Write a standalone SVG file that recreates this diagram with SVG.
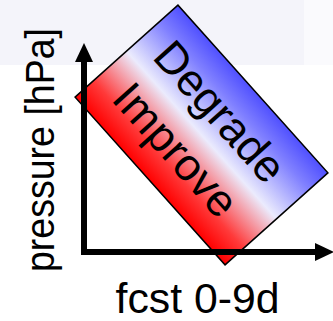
<svg xmlns="http://www.w3.org/2000/svg" width="333" height="321" viewBox="0 0 333 321">
  <defs>
    <linearGradient id="grad" x1="0" y1="1" x2="0" y2="0">
      <stop offset="0" stop-color="#ff0000"/>
      <stop offset="0.18" stop-color="#ff3a3a"/>
      <stop offset="0.5" stop-color="#ebebfd"/>
      <stop offset="0.82" stop-color="#8080ff"/>
      <stop offset="1" stop-color="#5050ff"/>
    </linearGradient>
    <marker id="arrow" markerUnits="userSpaceOnUse" markerWidth="19" markerHeight="18" refX="0" refY="9" orient="auto" overflow="visible">
      <path d="M0,0 L19,9 L0,18 Z" fill="#000"/>
    </marker>
    <style>
      .lbl { font-family: "Liberation Sans", Arial, sans-serif; fill: #000; }
      .axis { stroke: #000; stroke-width: 6; fill: none; }
    </style>
  </defs>

  <g id="background">
    <rect x="0" y="0" width="333" height="321" fill="#ffffff"/>
    <rect x="0" y="0" width="304" height="65" fill="#f4f4fa"/>
    <rect x="304" y="0" width="29" height="65" fill="#fafafd"/>
  </g>

  <g id="box" transform="translate(201.5,135) rotate(48.2)">
    <rect x="-112.5" y="-69" width="225" height="138" fill="url(#grad)" stroke="#000" stroke-width="1.5"/>
    <text class="lbl" x="-91" y="-14" font-size="45" textLength="172" lengthAdjust="spacingAndGlyphs">Degrade</text>
    <text class="lbl" x="-87" y="44.5" font-size="45" textLength="162" lengthAdjust="spacingAndGlyphs">Improve</text>
  </g>

  <g id="connectors">
    <path class="axis" d="M84,255 L84,62" marker-end="url(#arrow)"/>
    <path class="axis" d="M81,252 L315,252" marker-end="url(#arrow)"/>
  </g>

  <g id="y-label">
    <text class="lbl" transform="translate(54,272) rotate(-90)" x="0" y="0" font-size="40" textLength="244" lengthAdjust="spacingAndGlyphs">pressure [hPa]</text>
  </g>

  <g id="x-label">
    <text class="lbl" x="197.5" y="313" font-size="42" text-anchor="middle" textLength="164" lengthAdjust="spacingAndGlyphs">fcst 0-9d</text>
  </g>
</svg>
